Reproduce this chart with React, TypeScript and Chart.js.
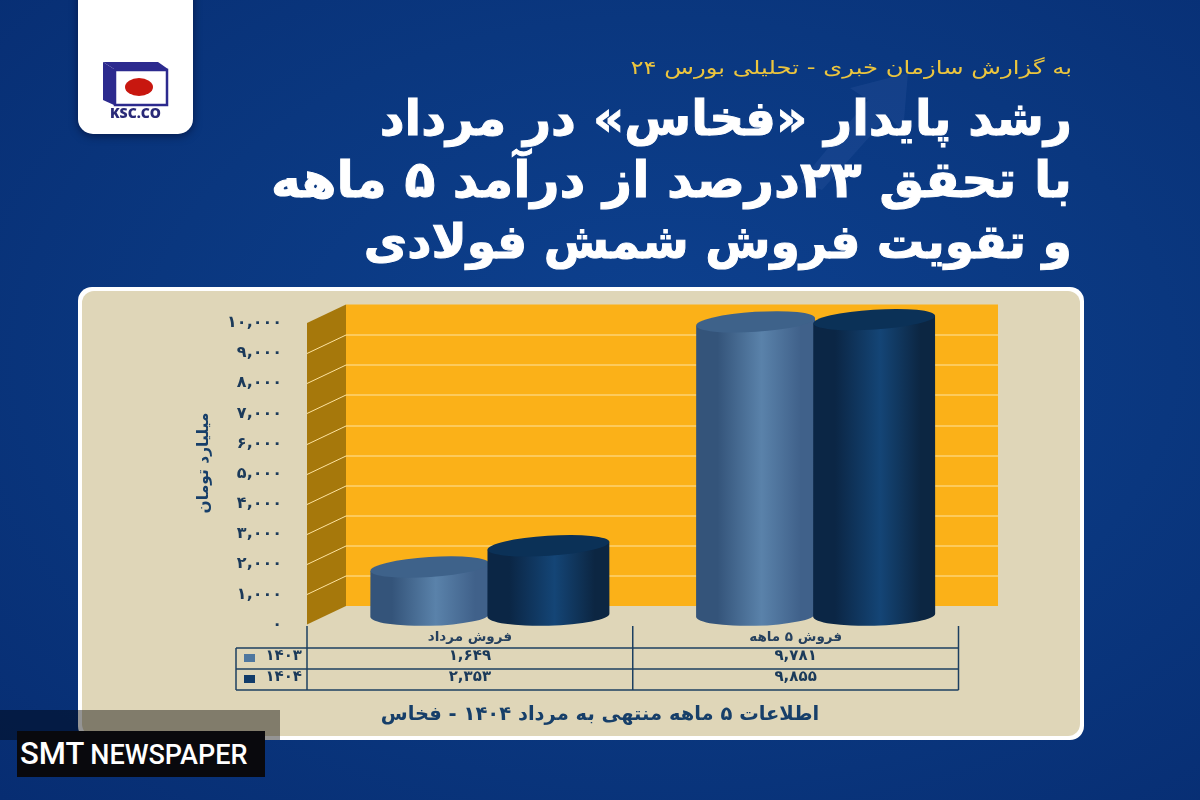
import React, { useEffect, useRef } from "react";
import { Chart, registerables } from "chart.js";

Chart.register(...registerables);

const categories = ["فروش مرداد", "فروش ۵ ماهه"];
const seriesNames = ["۱۴۰۳", "۱۴۰۴"];
const values1403 = [1649, 9781];
const values1404 = [2353, 9855];
const seriesColors = ["#4f779f", "#123c69"];
const kicker = "به گزارش سازمان خبری - تحلیلی بورس ۲۴";
const headline = ["رشد پایدار «فخاس» در مرداد", "با تحقق ۲۳درصد از درآمد ۵ ماهه", "و تقویت فروش شمش فولادی"];
const headlineSizes = [48.5, 50.5, 47.3];
const yTitle = "\u00a0\u00a0\u00a0\u00a0میلیارد تومان";
const footerNote = "اطلاعات ۵ ماهه منتهی به مرداد ۱۴۰۴ - فخاس";

const FA = "۰۱۲۳۴۵۶۷۸۹";
const toFa = (n: number) => n.toLocaleString("en-US").replace(/\d/g, (d) => FA[+d]);
const FONT = "'DejaVu Sans'";
const INK = "#173f69";

const DX = 39;
const DY = -18.5;

const wallsPlugin = {
  id: "walls",
  beforeDatasetsDraw(chart: any) {
    const { ctx, chartArea: a, scales } = chart;
    const y = scales.y;
    const backRight = 998;
    ctx.save();
    ctx.fillStyle = "#a6780b";
    ctx.beginPath();
    ctx.moveTo(a.left, a.top);
    ctx.lineTo(a.left + DX, a.top + DY);
    ctx.lineTo(a.left + DX, a.bottom + DY);
    ctx.lineTo(a.left, a.bottom);
    ctx.closePath();
    ctx.fill();
    ctx.fillStyle = "#fbb118";
    ctx.fillRect(a.left + DX, a.top + DY, backRight - a.left - DX, a.bottom - a.top);
    ctx.strokeStyle = "#fde3a0";
    ctx.lineWidth = 1;
    y.ticks.forEach((t: any) => {
      if (t.value === 0 || t.value === 10000) return;
      const py = Math.round(y.getPixelForValue(t.value)) + 0.5;
      ctx.beginPath();
      ctx.moveTo(a.left, py);
      ctx.lineTo(a.left + DX, py + DY);
      ctx.lineTo(backRight, py + DY);
      ctx.stroke();
    });
    ctx.restore();
  },
};

const cylinderPalette = [
  { edgeL: "#34547a", mid: "#5a82aa", edgeR: "#40618a", top: "#3e628a" },
  { edgeL: "#0b2645", mid: "#144576", edgeR: "#0c2642", top: "#0b3157" },
];

const cylindersPlugin = {
  id: "cylinders",
  beforeDatasetDraw() {
    return false;
  },
  afterDatasetsDraw(chart: any) {
    const { ctx, scales } = chart;
    const shiftX = DX / 2;
    const shiftY = DY / 2;
    [0, 1].forEach((ds) => {
      const meta = chart.getDatasetMeta(ds);
      meta.data.forEach((bar: any) => {
        const pal = cylinderPalette[ds];
        const grow = ds === 1 ? 2 : 0;
        const x0 = bar.x - bar.width / 2 + shiftX - grow;
        const x1 = bar.x + bar.width / 2 + shiftX + grow / 2;
        const cx = (x0 + x1) / 2;
        const rx = (x1 - x0) / 2;
        const topY = bar.y + shiftY + 1.5;
        const baseY = scales.y.getPixelForValue(0) + shiftY;
        const rotTop = -0.065;
        const rotBase = -0.025;
        const g = ctx.createLinearGradient(x0, 0, x1, 0);
        g.addColorStop(0, pal.edgeL);
        g.addColorStop(0.18, pal.edgeL);
        g.addColorStop(0.55, pal.mid);
        g.addColorStop(0.88, pal.edgeR);
        g.addColorStop(1, pal.edgeR);
        ctx.save();
        ctx.fillStyle = g;
        ctx.beginPath();
        ctx.moveTo(cx - rx * Math.cos(rotTop), topY - rx * Math.sin(rotTop));
        ctx.lineTo(cx - rx * Math.cos(rotBase), baseY - rx * Math.sin(rotBase));
        ctx.ellipse(cx, baseY, rx, 10.5, rotBase, Math.PI, 0, true);
        ctx.lineTo(cx + rx * Math.cos(rotTop), topY + rx * Math.sin(rotTop));
        ctx.closePath();
        ctx.fill();
        ctx.fillStyle = pal.top;
        ctx.beginPath();
        ctx.ellipse(cx, topY, rx, 10, rotTop, 0, Math.PI * 2);
        ctx.fill();
        ctx.restore();
      });
    });
  },
};

const tablePlugin = {
  id: "dataTable",
  afterDraw(chart: any) {
    const { ctx, chartArea: a, scales } = chart;
    const x = scales.x;
    const leftEdge = 236;
    const rows = [648, 669, 690];
    const colEdges = [a.left, (x.getPixelForValue(0) + x.getPixelForValue(1)) / 2, a.right];
    ctx.save();
    ctx.strokeStyle = "#1c3f60";
    ctx.lineWidth = 1.5;
    rows.forEach((ry) => {
      ctx.beginPath();
      ctx.moveTo(leftEdge, ry);
      ctx.lineTo(a.right, ry);
      ctx.stroke();
    });
    colEdges.forEach((cx) => {
      ctx.beginPath();
      ctx.moveTo(cx, 626);
      ctx.lineTo(cx, 690);
      ctx.stroke();
    });
    ctx.beginPath();
    ctx.moveTo(leftEdge, 648);
    ctx.lineTo(leftEdge, 690);
    ctx.stroke();
    ctx.textBaseline = "middle";
    ctx.font = `bold 15px ${FONT}`;
    chart.data.datasets.forEach((ds: any, r: number) => {
      const cy = rows[r] + 9;
      ctx.fillStyle = ds.backgroundColor;
      ctx.fillRect(244, cy - 3, 11, 8);
      ctx.fillStyle = "#1b3a5a";
      ctx.textAlign = "right";
      ctx.fillText(ds.label, 302, cy - 1);
      ctx.textAlign = "center";
      ds.data.forEach((v: number, c: number) => {
        ctx.fillText(toFa(v), x.getPixelForValue(c), cy - 1);
      });
    });
    ctx.restore();
  },
};

export default function App() {
  const ref = useRef<HTMLCanvasElement>(null);
  useEffect(() => {
    const chart = new Chart(ref.current as HTMLCanvasElement, {
      type: "bar",
      data: {
        labels: categories,
        datasets: [
          { label: seriesNames[0], data: values1403, backgroundColor: seriesColors[0], categoryPercentage: 0.731, barPercentage: 1 },
          { label: seriesNames[1], data: values1404, backgroundColor: seriesColors[1], categoryPercentage: 0.731, barPercentage: 1 },
        ],
      },
      options: {
        responsive: false,
        animation: false,
        layout: { padding: { left: 195, right: 241.5, top: 323, bottom: 150 } },
        plugins: { legend: { display: false }, tooltip: { enabled: false }, title: { display: false } },
        scales: {
          x: {
            grid: { display: false, drawTicks: false },
            border: { display: false },
            afterFit: (s: any) => { s.height = 800 - 323 - 150 - 301.5; },
            ticks: { padding: 5, color: "#26415f", font: { family: FONT, size: 13.5, weight: "bold" }, maxRotation: 0 },
          },
          y: {
            min: 0,
            max: 10000,
            grid: { display: false, drawTicks: false },
            border: { display: false },
            afterFit: (s: any) => { s.width = 112; },
            title: { display: true, text: yTitle, color: INK, padding: 0, font: { family: FONT, size: 15.5, weight: "bold" } },
            ticks: {
              stepSize: 1000,
              autoSkip: false,
              padding: 25,
              color: "#1b3a5a",
              font: { family: FONT, size: 16, weight: "bold" },
              callback: (v: any) => toFa(Number(v)),
            },
          },
        },
      },
      plugins: [wallsPlugin, cylindersPlugin, tablePlugin],
    } as any);
    return () => chart.destroy();
  }, []);

  return (
    <div style={{ position: "fixed", left: 0, top: 0, width: 1200, height: 800, overflow: "hidden", background: "radial-gradient(ellipse at 55% 45%, #0d4190 0%, #0a377f 55%, #072d72 100%)" }}>
      {/* faint arrow behind the headline */}
      <svg width={1200} height={300} style={{ position: "absolute", left: 0, top: 0 }}>
        <path d="M800 182 L868 100 L850 88 L908 73 L903 132 L888 116 L822 190 Z" fill="rgba(120,160,220,.09)" />
      </svg>
      {/* logo tab */}
      <div style={{ position: "absolute", left: 78, top: -20, width: 115, height: 154, background: "#fff", borderRadius: 15, boxShadow: "0 2px 8px rgba(0,0,30,.5)" }} />
      <svg width={120} height={70} viewBox="0 0 120 70" style={{ position: "absolute", left: 78, top: 55 }}>
        <polygon points="25,7 36,14 36,50 25,45" fill="#2c2a8e" />
        <polygon points="25,7 80,7 90,14 36,14" fill="#2c2a8e" />
        <rect x={37} y={15} width={52} height={35} fill="#fff" stroke="#2c2a8e" strokeWidth={2.5} />
        <ellipse cx={61} cy={32} rx={14} ry={9} fill="#c8170f" />
        <text x={57.5} y={63} textAnchor="middle" fontFamily="'Open Sans'" fontWeight={800} fontSize={14} fill="#2a2a78">KSC.CO</text>
      </svg>
      {/* headings */}
      <div dir="rtl" style={{ position: "absolute", right: 128, top: 56, fontFamily: FONT, fontSize: 19, lineHeight: "22px", color: "#ecc53e", whiteSpace: "nowrap", transform: "scaleX(1.28)", transformOrigin: "right center" }}>{kicker}</div>
      {headline.map((t, i) => (
        <div key={i} dir="rtl" style={{ position: "absolute", right: 128, top: 88 + i * 62, fontFamily: FONT, fontWeight: 700, fontSize: headlineSizes[i], lineHeight: "60px", color: "#fff", whiteSpace: "nowrap", WebkitTextStroke: "1px #fff" }}>{t}</div>
      ))}
      {/* card */}
      <div style={{ position: "absolute", left: 78, top: 287, width: 1006, height: 453, background: "#fff", borderRadius: 14 }} />
      <div style={{ position: "absolute", left: 82, top: 291, width: 998, height: 445, background: "#dfd6b8", borderRadius: 12 }} />
      <canvas ref={ref} width={1200} height={800} style={{ position: "absolute", left: 0, top: 0, display: "block" }} />
      <div dir="rtl" style={{ position: "absolute", left: 300, width: 600, top: 702, textAlign: "center", fontFamily: FONT, fontWeight: 700, fontSize: 19.5, lineHeight: "24px", color: INK, whiteSpace: "nowrap" }}>{footerNote}</div>
      {/* watermark */}
      <div style={{ position: "absolute", left: 0, top: 710, width: 280, height: 30, background: "rgba(0,0,0,.42)" }} />
      <div style={{ position: "absolute", left: 17, top: 731, width: 248, height: 46, background: "#09090d" }} />
      <div style={{ position: "absolute", left: 20, top: 736, height: 36, lineHeight: "36px", fontFamily: "Roboto", color: "#fff", whiteSpace: "nowrap" }}>
        <span style={{ fontWeight: 500, fontSize: 31 }}>SMT</span>
        <span style={{ fontWeight: 500, fontSize: 27, marginLeft: 6 }}>NEWSPAPER</span>
      </div>
    </div>
  );
}
